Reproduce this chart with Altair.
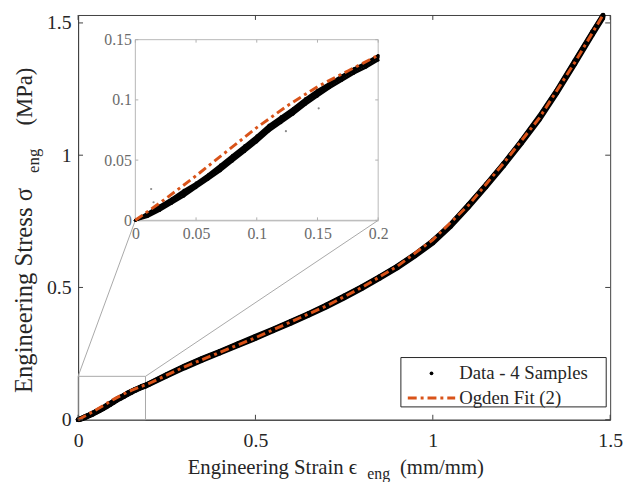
import altair as alt
import pandas as pd

# ---------------- data ----------------
strain = [0.0, 0.01, 0.02, 0.03, 0.04, 0.05, 0.06, 0.07, 0.08, 0.09, 0.10,
          0.11, 0.12, 0.13, 0.14, 0.15, 0.16, 0.17, 0.18, 0.19, 0.20,
          0.25, 0.30, 0.35, 0.40, 0.45, 0.50, 0.55, 0.60, 0.65, 0.70, 0.75,
          0.80, 0.85, 0.90, 0.95, 1.00, 1.05, 1.10, 1.15, 1.20, 1.25, 1.30,
          1.35, 1.40, 1.45, 1.48]

sample_1 = [0, 0.004, 0.010, 0.016, 0.022, 0.029, 0.036, 0.043, 0.051, 0.059, 0.067,
            0.076, 0.083, 0.090, 0.098, 0.105, 0.112, 0.118, 0.124, 0.129, 0.135,
            0.168, 0.199, 0.228, 0.255, 0.283, 0.310, 0.339, 0.368, 0.398, 0.430, 0.464,
            0.500, 0.538, 0.578, 0.623, 0.673, 0.735, 0.808, 0.885, 0.965, 1.050, 1.140,
            1.240, 1.350, 1.460, 1.525]
sample_2 = [0, 0.006, 0.012, 0.018, 0.025, 0.031, 0.038, 0.046, 0.054, 0.062, 0.070,
            0.079, 0.086, 0.093, 0.101, 0.108, 0.114, 0.120, 0.126, 0.131, 0.137,
            0.171, 0.203, 0.232, 0.259, 0.287, 0.315, 0.343, 0.372, 0.402, 0.434, 0.468,
            0.503, 0.541, 0.581, 0.626, 0.677, 0.738, 0.812, 0.889, 0.969, 1.055, 1.146,
            1.246, 1.356, 1.466, 1.530]
sample_3 = [0, 0.003, 0.008, 0.014, 0.020, 0.027, 0.034, 0.041, 0.049, 0.057, 0.065,
            0.074, 0.081, 0.088, 0.096, 0.103, 0.110, 0.116, 0.122, 0.127, 0.133,
            0.165, 0.196, 0.225, 0.252, 0.280, 0.307, 0.336, 0.365, 0.395, 0.426, 0.460,
            0.496, 0.534, 0.574, 0.619, 0.668, 0.730, 0.803, 0.880, 0.960, 1.045, 1.134,
            1.235, 1.344, 1.455, 1.520]
sample_4 = [0, 0.005, 0.011, 0.017, 0.023, 0.030, 0.037, 0.044, 0.052, 0.060, 0.069,
            0.077, 0.084, 0.092, 0.100, 0.107, 0.113, 0.119, 0.125, 0.130, 0.136,
            0.169, 0.201, 0.230, 0.257, 0.285, 0.312, 0.341, 0.370, 0.400, 0.432, 0.466,
            0.501, 0.539, 0.579, 0.624, 0.675, 0.736, 0.810, 0.887, 0.967, 1.052, 1.143,
            1.243, 1.353, 1.463, 1.528]

fit_strain = [0, 0.025, 0.05, 0.075, 0.1, 0.125, 0.15, 0.175, 0.2, 0.3, 0.4, 0.5,
              0.6, 0.7, 0.8, 0.9, 1.0, 1.1, 1.2, 1.3, 1.4, 1.48]
fit_stress = [0, 0.018, 0.037, 0.057, 0.077, 0.095, 0.111, 0.124, 0.137, 0.200, 0.255, 0.310,
              0.370, 0.430, 0.500, 0.580, 0.680, 0.810, 0.970, 1.140, 1.350, 1.530]

outlier_strain = [0.013, 0.015, 0.124, 0.151]
outlier_stress = [0.026, 0.015, 0.074, 0.093]

main_ticks = [0, 0.5, 1, 1.5]
inset_x_ticks = [0, 0.05, 0.1, 0.15, 0.2]
inset_y_ticks = [0, 0.05, 0.1, 0.15]

# ---------------- layout constants ----------------
W, H = 539, 410
ORANGE = "#D95319"
FONT = "Liberation Serif, Times New Roman, Times, serif"
TXT = "#262626"
AX = "#404040"
INSET_X0, INSET_X1 = 58, 304      # inset pixel range inside plot area
INSET_Y0, INSET_Y1 = 208, 25

rows = []
for name, vals in [("s1", sample_1), ("s2", sample_2), ("s3", sample_3), ("s4", sample_4)]:
    for e, s in zip(strain, vals):
        rows.append({"sample": name, "strain": e, "stress": s})
data = pd.DataFrame(rows)
fit = pd.DataFrame({"strain": fit_strain, "stress": fit_stress})
inset_data = data[data.strain <= 0.2]
inset_fit = fit[fit.strain <= 0.2]
outliers = pd.DataFrame({"strain": outlier_strain, "stress": outlier_stress})

xs = alt.Scale(domain=[0, 1.5], nice=False)
ys = alt.Scale(domain=[0, 1.53], nice=False)
xaxis = alt.Axis(values=main_ticks, format="~g", grid=False, ticks=False, title=None,
                 labelFlush=False, labelFont=FONT, labelFontSize=20, labelColor=TXT,
                 labelPadding=11, domainColor=AX, orient="bottom")
yaxis = alt.Axis(values=main_ticks, format="~g", grid=False, ticks=False, title=None,
                 labelFont=FONT, labelFontSize=20, labelColor=TXT, labelPadding=7,
                 domainColor=AX, orient="left")

base = alt.Chart(data)
data_lines = base.mark_line(color="black", strokeWidth=5).encode(
    x=alt.X("strain:Q", scale=xs, axis=xaxis),
    y=alt.Y("stress:Q", scale=ys, axis=yaxis),
    detail="sample:N")
data_pts = base.mark_circle(color="black", size=22, opacity=1).encode(
    x="strain:Q", y="stress:Q")
fit_line = alt.Chart(fit).mark_line(color=ORANGE, strokeWidth=3,
                                    strokeDash=[9, 4, 3, 4]).encode(
    x="strain:Q", y="stress:Q")

zoom_box = alt.Chart(pd.DataFrame({"x0": [0], "x1": [0.19], "y0": [0], "y1": [0.164]})).mark_rect(
    fillOpacity=0, stroke="#a8a8a8", strokeWidth=1).encode(
    x="x0:Q", x2="x1:Q", y="y0:Q", y2="y1:Q")
conn_l = alt.Chart(pd.DataFrame({"x0": [0], "y0": [0.164]})).mark_rule(
    color="#a8a8a8", strokeWidth=1).encode(
    x="x0:Q", y="y0:Q", x2=alt.value(INSET_X0), y2=alt.value(INSET_Y0))
conn_r = alt.Chart(pd.DataFrame({"x0": [0.19], "y0": [0.164]})).mark_rule(
    color="#a8a8a8", strokeWidth=1).encode(
    x="x0:Q", y="y0:Q", x2=alt.value(INSET_X1), y2=alt.value(INSET_Y0))

tk = pd.DataFrame({"v": main_ticks})
tick_b = alt.Chart(tk).mark_rule(color=AX).encode(x="v:Q", y=alt.value(H), y2=alt.value(H - 5))
tick_t = alt.Chart(tk).mark_rule(color=AX).encode(x="v:Q", y=alt.value(0), y2=alt.value(5))
tick_l = alt.Chart(tk).mark_rule(color=AX).encode(y="v:Q", x=alt.value(0), x2=alt.value(5))
tick_r = alt.Chart(tk).mark_rule(color=AX).encode(y="v:Q", x=alt.value(W), x2=alt.value(W - 5))

# axis titles (with subscripts) as text marks
def txt(t, x, y, size, angle=0, style="normal"):
    return alt.Chart(pd.DataFrame({"t": [t]})).mark_text(
        font=FONT, fontSize=size, color=TXT, align="left", baseline="alphabetic",
        angle=angle, fontStyle=style).encode(text="t:N", x=alt.value(x), y=alt.value(y))

titles = [
    txt("Engineering Strain ϵ", 111, 465, 21),
    txt("eng", 293, 470, 16),
    txt("(mm/mm)", 326, 465, 21),
    txt("Engineering Stress σ", -47, 383, 25, angle=270),
    txt("eng", -40, 160, 17, angle=270),
    txt("(MPa)", -47, 112, 23, angle=270),
]

# legend
leg_box = alt.Chart(pd.DataFrame({"a": [0]})).mark_rect(
    fill="white", stroke=TXT, strokeWidth=1).encode(
    x=alt.value(327), x2=alt.value(535), y=alt.value(347), y2=alt.value(397))
leg_dot = alt.Chart(pd.DataFrame({"a": [0]})).mark_circle(color="black", size=14, opacity=1).encode(
    x=alt.value(358), y=alt.value(363))
leg_line = alt.Chart(pd.DataFrame({"a": [0]})).mark_rule(
    color=ORANGE, strokeWidth=3, strokeDash=[9, 4, 3, 4]).encode(
    x=alt.value(334), x2=alt.value(382), y=alt.value(388))
leg_t1 = alt.Chart(pd.DataFrame({"t": ["Data - 4 Samples"]})).mark_text(
    font=FONT, fontSize=19, color=TXT, align="left", baseline="middle").encode(
    text="t:N", x=alt.value(386), y=alt.value(363))
leg_t2 = alt.Chart(pd.DataFrame({"t": ["Ogden Fit (2)"]})).mark_text(
    font=FONT, fontSize=19, color=TXT, align="left", baseline="middle").encode(
    text="t:N", x=alt.value(386), y=alt.value(388))

main = alt.layer(zoom_box, conn_l, conn_r, data_lines, data_pts, fit_line,
                 tick_b, tick_t, tick_l, tick_r, *titles,
                 leg_box, leg_dot, leg_line, leg_t1, leg_t2)

# ---------------- inset ----------------
ixs = alt.Scale(domain=[0, 0.2], range=[INSET_X0, INSET_X1], nice=False)
iys = alt.Scale(domain=[0, 0.15], range=[INSET_Y0, INSET_Y1], nice=False)
ixaxis = alt.Axis(values=inset_x_ticks, format="~g", grid=False, ticks=False, title=None,
                  labelFlush=False, labelFont=FONT, labelFontSize=16, labelColor="#6b6b6b",
                  labelPadding=5, domainColor="#b0b0b0", orient="bottom",
                  offset=-(H - INSET_Y0))
iyaxis = alt.Axis(values=inset_y_ticks, format="~g", grid=False, ticks=False, title=None,
                  labelFont=FONT, labelFontSize=16, labelColor="#6b6b6b", labelPadding=4,
                  domainColor="#b0b0b0", orient="left", offset=-INSET_X0)

inset_bg = alt.Chart(pd.DataFrame({"x0": [0], "x1": [0.2], "y0": [0], "y1": [0.15]})).mark_rect(
    fill="white", stroke="#b8b8b8", strokeWidth=1).encode(
    x=alt.X("x0:Q", scale=ixs, axis=ixaxis), x2="x1:Q",
    y=alt.Y("y0:Q", scale=iys, axis=iyaxis), y2="y1:Q")
i_lines = alt.Chart(inset_data).mark_line(color="black", strokeWidth=2.6).encode(
    x="strain:Q", y="stress:Q", detail="sample:N")
i_pts = alt.Chart(inset_data).mark_circle(color="black", size=8, opacity=1).encode(
    x="strain:Q", y="stress:Q")
i_out = alt.Chart(outliers).mark_circle(color="#8a8a8a", size=5, opacity=1).encode(
    x="strain:Q", y="stress:Q")
i_fit = alt.Chart(inset_fit).mark_line(color=ORANGE, strokeWidth=3,
                                       strokeDash=[9, 4, 3, 4]).encode(
    x="strain:Q", y="stress:Q")
itx = pd.DataFrame({"v": inset_x_ticks})
ity = pd.DataFrame({"v": inset_y_ticks})
i_tb = alt.Chart(itx).mark_rule(color="#b0b0b0").encode(
    x="v:Q", y=alt.value(INSET_Y0), y2=alt.value(INSET_Y0 - 3))
i_tt = alt.Chart(itx).mark_rule(color="#b0b0b0").encode(
    x="v:Q", y=alt.value(INSET_Y1), y2=alt.value(INSET_Y1 + 3))
i_tl = alt.Chart(ity).mark_rule(color="#b0b0b0").encode(
    y="v:Q", x=alt.value(INSET_X0), x2=alt.value(INSET_X0 + 3))
i_tr = alt.Chart(ity).mark_rule(color="#b0b0b0").encode(
    y="v:Q", x=alt.value(INSET_X1), x2=alt.value(INSET_X1 - 3))

inset = alt.layer(inset_bg, i_tb, i_tt, i_tl, i_tr, i_out, i_lines, i_pts, i_fit)

chart = alt.layer(main, inset).resolve_scale(
    x="independent", y="independent"
).properties(
    width=W, height=H,
    autosize=alt.AutoSizeParams(type="none"),
    padding={"left": 71, "top": 4, "right": 13, "bottom": 60},
    background="white",
).configure_view(stroke=AX, strokeWidth=1)

chart.save("out.html", embed_options={"renderer": "svg", "actions": False})
